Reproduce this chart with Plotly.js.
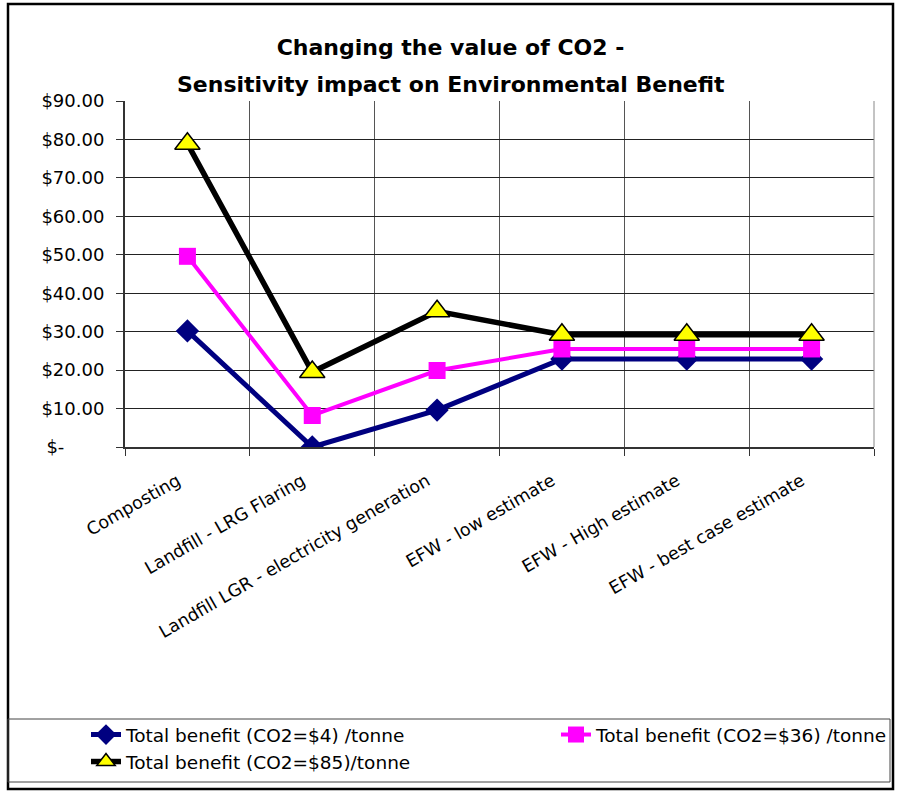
<!DOCTYPE html>
<html>
<head>
<meta charset="utf-8">
<script src="https://cdn.plot.ly/plotly-3.0.1.min.js"></script>
<style>html,body{margin:0;padding:0;background:#fff;}#chart{width:901px;height:791px;}</style>
</head>
<body>
<div id="chart"></div>
<script>
// ---- data ----
var categories = ["Composting", "Landfill - LRG Flaring", "Landfill LGR - electricity generation", "EFW - low estimate", "EFW - High estimate", "EFW - best case estimate"];
var seriesNames = ["Total benefit (CO2=$4) /tonne", "Total benefit (CO2=$36) /tonne", "Total benefit (CO2=$85)/tonne"];
var benefitCO2_4  = [30.2, 0.0, 9.6, 22.9, 22.9, 22.9];
var benefitCO2_36 = [49.6, 8.2, 19.9, 25.5, 25.5, 25.5];
var benefitCO2_85 = [78.9, 19.5, 35.3, 29.2, 29.2, 29.2];
var yTickVals = [0, 10, 20, 30, 40, 50, 60, 70, 80, 90];
var yTickText = ["$-\u00a0\u00a0\u00a0\u00a0\u00a0\u00a0\u00a0", "$10.00", "$20.00", "$30.00", "$40.00", "$50.00", "$60.00", "$70.00", "$80.00", "$90.00"];
var titleLine1 = "Changing the value of CO2 -";
var titleLine2 = "Sensitivity impact on Environmental Benefit";

// ---- layout helpers (pixel -> paper) ----
var W = 901, H = 791, L = 125, R = 27, T = 101, B = 344;
var pw = W - L - R, ph = H - T - B;
function px(x) { return (x - L) / pw; }
function py(y) { return (H - B - y) / ph; }
function cx(x) { return x / W; }
function cy(y) { return 1 - y / H; }

var font = "DejaVu Sans, Verdana, sans-serif";
var titleFont = {family: font, size: 22, color: "#000"};

var traces = [
  {x: categories, y: benefitCO2_4, name: seriesNames[0], type: "scatter", mode: "lines+markers", legend: "legend",
   line: {color: "#000080", width: 5}, marker: {symbol: "diamond", size: 18, color: "#000080"}},
  {x: categories, y: benefitCO2_36, name: seriesNames[1], type: "scatter", mode: "lines+markers", legend: "legend2",
   line: {color: "#FF00FF", width: 4}, marker: {symbol: "square", size: 17, color: "#FF00FF"}},
  {x: categories, y: benefitCO2_85, name: seriesNames[2], type: "scatter", mode: "lines+markers", legend: "legend3",
   line: {color: "#000000", width: 5.5}, marker: {symbol: "triangle-up", size: 22, color: "#FFFF00", line: {color: "#000000", width: 1.5}}}
];

function legendAt(xPix, yPix) {
  return {
    orientation: "h", x: cx(xPix), xref: "container", xanchor: "left",
    y: cy(yPix), yref: "container", yanchor: "middle",
    font: {family: font, size: 18.5, color: "#000"}, itemwidth: 30,
    bgcolor: "rgba(0,0,0,0)", borderwidth: 0
  };
}

var layout = {
  width: W, height: H,
  margin: {l: L, r: R, t: T, b: B},
  paper_bgcolor: "#ffffff", plot_bgcolor: "#ffffff",
  font: {family: font, size: 16, color: "#000"},
  title: {
    text: "<b>" + titleLine1 + "</b>",
    font: titleFont,
    x: 0.5, xref: "container", xanchor: "center",
    y: cy(47), yref: "container", yanchor: "middle"
  },
  annotations: [
    {text: "<b>" + titleLine2 + "</b>", xref: "paper", yref: "paper", x: px(451), y: py(84),
     xanchor: "center", yanchor: "middle", showarrow: false, font: titleFont}
  ],
  xaxis: {
    type: "category", tickson: "boundaries", showgrid: true, gridcolor: "#555", gridwidth: 1,
    ticks: "outside", ticklen: 7, tickcolor: "#333", tickwidth: 1,
    showline: true, linecolor: "#333", linewidth: 2, mirror: false,
    tickangle: -30, tickfont: {family: font, size: 17.5, color: "#000"},
    ticklabelstandoff: 15, ticklabelshift: -10,
    range: [-0.5, 5.5], fixedrange: true
  },
  yaxis: {
    range: [0, 90], tickvals: yTickVals, ticktext: yTickText,
    showgrid: true, gridcolor: "#222", gridwidth: 1,
    ticks: "outside", ticklen: 7, tickcolor: "#333",
    showline: true, linecolor: "#333", linewidth: 2, zeroline: false,
    ticklabelstandoff: 8,
    tickfont: {family: font, size: 18, color: "#000"}, fixedrange: true
  },
  showlegend: true,
  legend: legendAt(86, 735),
  legend2: legendAt(556, 735),
  legend3: legendAt(86, 762),
  shapes: [
    // outer chart border
    {type: "rect", xref: "paper", yref: "paper", x0: px(8), x1: px(893), y0: py(4), y1: py(789),
     line: {color: "#000", width: 2.5}, fillcolor: "rgba(0,0,0,0)"},
    // right plot edge
    {type: "line", xref: "paper", yref: "paper", x0: 1, x1: 1, y0: 0, y1: 1, line: {color: "#888", width: 1}},
    // legend box
    {type: "rect", xref: "paper", yref: "paper", x0: px(8), x1: px(890), y0: py(719), y1: py(782),
     line: {color: "#444", width: 1}, fillcolor: "rgba(0,0,0,0)"}
  ]
};

Plotly.newPlot("chart", traces, layout, {displayModeBar: false, staticPlot: true});
</script>
</body>
</html>
